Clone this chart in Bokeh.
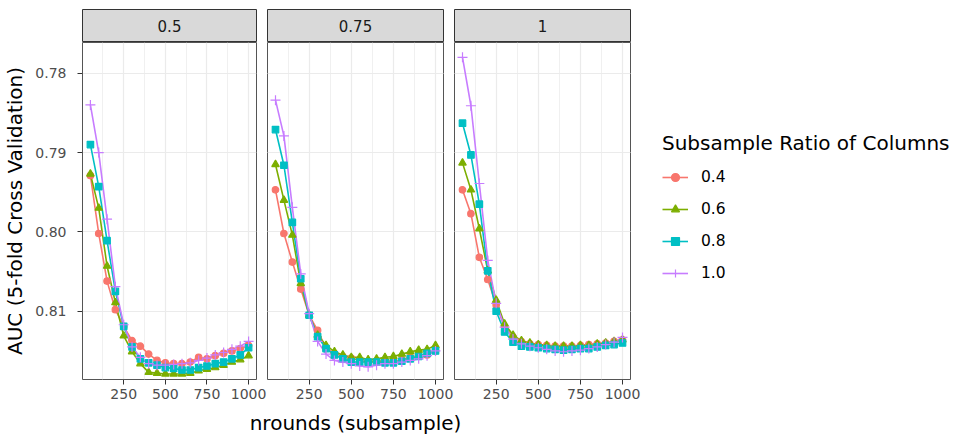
from bokeh.plotting import figure
from bokeh.layouts import row, column
from bokeh.models import (Range1d, FixedTicker, NumeralTickFormatter, Grid,
                          Legend, LegendItem, Label)
from bokeh.embed import file_html
from bokeh.resources import INLINE
from bokeh.core.properties import value

FONT = "DejaVu Sans"

# ---- data -----------------------------------------------------------------
nrounds = [50, 100, 150, 200, 250, 300, 350, 400, 450, 500,
           550, 600, 650, 700, 750, 800, 850, 900, 950, 1000]

facets = ["0.5", "0.75", "1"]                    # subsample
col_ratios = ["0.4", "0.6", "0.8", "1.0"]         # colsample_bytree

# subsample = 0.5
auc_s05_c04 = [0.7929, 0.8002, 0.8062, 0.8098, 0.8119, 0.8137, 0.8144, 0.8154, 0.8162, 0.8165,
               0.8166, 0.8166, 0.8164, 0.8158, 0.8160, 0.8156, 0.8153, 0.8150, 0.8147, 0.8143]
auc_s05_c06 = [0.7927, 0.7970, 0.8043, 0.8089, 0.8131, 0.8151, 0.8166, 0.8177, 0.8178, 0.8179,
               0.8179, 0.8179, 0.8178, 0.8175, 0.8173, 0.8171, 0.8168, 0.8164, 0.8161, 0.8156]
auc_s05_c08 = [0.7890, 0.7943, 0.8011, 0.8075, 0.8119, 0.8145, 0.8160, 0.8165, 0.8168, 0.8171,
               0.8172, 0.8174, 0.8174, 0.8171, 0.8169, 0.8166, 0.8164, 0.8160, 0.8155, 0.8146]
auc_s05_c10 = [0.7840, 0.7900, 0.7984, 0.8069, 0.8117, 0.8145, 0.8158, 0.8166, 0.8168, 0.8168,
               0.8167, 0.8166, 0.8165, 0.8162, 0.8159, 0.8155, 0.8152, 0.8148, 0.8144, 0.8138]

# subsample = 0.75
auc_s075_c04 = [0.7947, 0.8002, 0.8038, 0.8072, 0.8105, 0.8124, 0.8147, 0.8153, 0.8157, 0.8159,
                0.8162, 0.8164, 0.8164, 0.8163, 0.8163, 0.8161, 0.8158, 0.8156, 0.8155, 0.8150]
auc_s075_c06 = [0.7915, 0.7960, 0.8004, 0.8065, 0.8105, 0.8130, 0.8143, 0.8151, 0.8155, 0.8158,
                0.8158, 0.8161, 0.8160, 0.8158, 0.8157, 0.8154, 0.8151, 0.8149, 0.8148, 0.8143]
auc_s075_c08 = [0.7871, 0.7916, 0.7988, 0.8059, 0.8105, 0.8132, 0.8147, 0.8155, 0.8160, 0.8164,
                0.8164, 0.8164, 0.8164, 0.8165, 0.8165, 0.8163, 0.8160, 0.8157, 0.8153, 0.8150]
auc_s075_c10 = [0.7834, 0.7879, 0.7969, 0.8053, 0.8103, 0.8138, 0.8154, 0.8162, 0.8164, 0.8166,
                0.8169, 0.8170, 0.8168, 0.8166, 0.8166, 0.8164, 0.8162, 0.8160, 0.8156, 0.8150]

# subsample = 1
auc_s10_c04 = [0.7947, 0.7977, 0.8032, 0.8060, 0.8092, 0.8120, 0.8132, 0.8138, 0.8141, 0.8142,
               0.8143, 0.8144, 0.8144, 0.8144, 0.8143, 0.8142, 0.8141, 0.8140, 0.8138, 0.8136]
auc_s10_c06 = [0.7913, 0.7947, 0.7996, 0.8049, 0.8086, 0.8116, 0.8130, 0.8137, 0.8140, 0.8142,
               0.8143, 0.8144, 0.8144, 0.8144, 0.8143, 0.8143, 0.8141, 0.8140, 0.8138, 0.8136]
auc_s10_c08 = [0.7863, 0.7903, 0.7965, 0.8049, 0.8100, 0.8126, 0.8139, 0.8144, 0.8145, 0.8146,
               0.8147, 0.8148, 0.8149, 0.8148, 0.8147, 0.8147, 0.8145, 0.8143, 0.8142, 0.8140]
auc_s10_c10 = [0.7780, 0.7841, 0.7939, 0.8036, 0.8090, 0.8120, 0.8135, 0.8141, 0.8144, 0.8146,
               0.8148, 0.8150, 0.8151, 0.8150, 0.8149, 0.8147, 0.8145, 0.8142, 0.8139, 0.8133]

panel_series = [
    [auc_s05_c04, auc_s05_c06, auc_s05_c08, auc_s05_c10],
    [auc_s075_c04, auc_s075_c06, auc_s075_c08, auc_s075_c10],
    [auc_s10_c04, auc_s10_c06, auc_s10_c08, auc_s10_c10],
]

x_ticks = [250, 500, 750, 1000]
x_minor = [125, 375, 625, 875]
y_ticks = [0.78, 0.79, 0.80, 0.81]

# ---- styling ----------------------------------------------------------------
colors = ["#F8766D", "#7CAE00", "#00BFC4", "#C77CFF"]
markers = ["circle", "triangle", "square", "cross"]
marker_sizes = [6.5, 7.5, 6.5, 10]

PANEL_W = 176
GAP = 11
LEFT = 80
FRAME_H = 337
BOTTOM = 26
TOTAL_W = 954
TOTAL_H = 434
TICK_FONT = "14px"
TITLE_FONT = "20px"
LINE_W = 1.6


def strip(label, left_pad, right_pad):
    s = figure(width=left_pad + PANEL_W + right_pad, height=42,
               x_range=Range1d(0, 1), y_range=Range1d(0, 1),
               x_axis_location=None, y_axis_location=None,
               min_border_left=left_pad, min_border_right=right_pad,
               min_border_top=9, min_border_bottom=0,
               output_backend="svg", toolbar_location=None)
    s.background_fill_color = "#d9d9d9"
    s.outline_line_color = "#333333"
    s.outline_line_width = 1
    s.xgrid.visible = False
    s.ygrid.visible = False
    s.text(x=[0.5], y=[0.5], text=[label], text_align="center", text_baseline="middle",
           text_font=value(FONT), text_font_size="15px", text_color="#1a1a1a")
    return s


def panel(series, with_y, left_pad, right_pad):
    p = figure(width=left_pad + PANEL_W + right_pad, height=FRAME_H + BOTTOM,
               x_range=Range1d(2.5, 1047.5), y_range=Range1d(0.8186, 0.77613),
               y_axis_location="left" if with_y else None,
               min_border_left=left_pad, min_border_right=right_pad, min_border_top=0,
               min_border_bottom=BOTTOM,
               output_backend="svg", toolbar_location=None)
    p.outline_line_color = "#555555"
    p.outline_line_width = 1

    xa = p.xaxis[0]
    xa.ticker = FixedTicker(ticks=x_ticks, minor_ticks=x_minor)
    xa.axis_line_color = None
    xa.major_tick_line_color = "#333333"
    xa.major_tick_out = 5
    xa.major_tick_in = 0
    xa.minor_tick_line_color = None
    xa.major_label_text_font = FONT
    xa.major_label_text_font_size = TICK_FONT
    xa.major_label_text_color = "#4d4d4d"
    xa.major_label_standoff = 4

    p.xgrid.grid_line_color = "#ebebeb"
    p.xgrid.grid_line_width = 1.2
    p.xgrid.minor_grid_line_color = "#f0f0f0"
    p.xgrid.minor_grid_line_width = 1

    if with_y:
        ya = p.yaxis[0]
        ya.ticker = FixedTicker(ticks=y_ticks)
        ya.formatter = NumeralTickFormatter(format="0.00")
        ya.axis_line_color = None
        ya.major_tick_line_color = "#333333"
        ya.major_tick_out = 5
        ya.major_tick_in = 0
        ya.minor_tick_line_color = None
        ya.major_label_text_font = FONT
        ya.major_label_text_font_size = TICK_FONT
        ya.major_label_text_color = "#4d4d4d"
        ya.major_label_standoff = 11
        ya.axis_label = "AUC (5-fold Cross Validation)"
        ya.axis_label_text_font = FONT
        ya.axis_label_text_font_size = TITLE_FONT
        ya.axis_label_text_font_style = "normal"
        ya.axis_label_text_color = "#000000"
        ya.axis_label_standoff = 5
        p.ygrid.grid_line_color = "#ebebeb"
        p.ygrid.grid_line_width = 1.2
    else:
        p.add_layout(Grid(dimension=1, ticker=FixedTicker(ticks=y_ticks),
                          grid_line_color="#ebebeb", grid_line_width=1.2))

    for vals, c in zip(series, colors):
        p.line(nrounds, vals, line_color=c, line_width=LINE_W)
    for vals, c, m, sz in zip(series, colors, markers, marker_sizes):
        p.scatter(nrounds, vals, marker=m, size=sz, fill_color=c, line_color=c, line_width=1.2)
    return p


columns = []
for i, (facet, series) in enumerate(zip(facets, panel_series)):
    left_pad = LEFT if i == 0 else 0
    columns.append(column(strip(facet, left_pad, GAP), panel(series, i == 0, left_pad, GAP)))

plots_w = LEFT + 3 * PANEL_W + 3 * GAP

# shared x axis title, centred under the three panels
xt = figure(width=plots_w, height=TOTAL_H - 42 - FRAME_H - BOTTOM,
            x_range=Range1d(0, 1), y_range=Range1d(0, 1),
            x_axis_location=None, y_axis_location=None, min_border=0,
            output_backend="svg", toolbar_location=None)
xt.outline_line_color = None
xt.xgrid.visible = False
xt.ygrid.visible = False
xt.add_layout(Label(x=LEFT + (3 * PANEL_W + 2 * GAP) / 2, y=12, x_units="screen", y_units="screen",
                    text="nrounds (subsample)", text_align="center", text_baseline="middle",
                    text_font=FONT, text_font_size=TITLE_FONT, text_color="#000000"))

# legend area: hidden copies of the last facet's series supply the legend keys
lg = figure(width=TOTAL_W - plots_w, height=TOTAL_H,
            x_range=Range1d(0, 1), y_range=Range1d(0, 1),
            x_axis_location=None, y_axis_location=None, min_border=0,
            output_backend="svg", toolbar_location=None)
lg.outline_line_color = None
lg.xgrid.visible = False
lg.ygrid.visible = False
items = []
for lab, vals, c, m, sz in zip(col_ratios, panel_series[-1], colors, markers, marker_sizes):
    lr = lg.line(nrounds, vals, line_color=c, line_width=LINE_W, visible=False)
    sr = lg.scatter(nrounds, vals, marker=m, size=sz, fill_color=c, line_color=c,
                    line_width=1.2, visible=False)
    items.append(LegendItem(label=lab, renderers=[lr, sr]))

legend = Legend(items=items, location=(21, 151),
                title="Subsample Ratio of Columns",
                title_text_font=FONT, title_text_font_size=TITLE_FONT,
                title_text_font_style="normal", title_text_color="#000000",
                title_standoff=12,
                label_text_font=FONT, label_text_font_size="15.5px", label_text_color="#000000",
                glyph_width=26, glyph_height=20, label_height=20, label_standoff=13,
                spacing=12, padding=0, margin=0,
                border_line_color=None, background_fill_alpha=0)
lg.add_layout(legend)

layout = row(column(row(*columns), xt), lg)

open("out.html", "w").write(file_html(layout, INLINE))
